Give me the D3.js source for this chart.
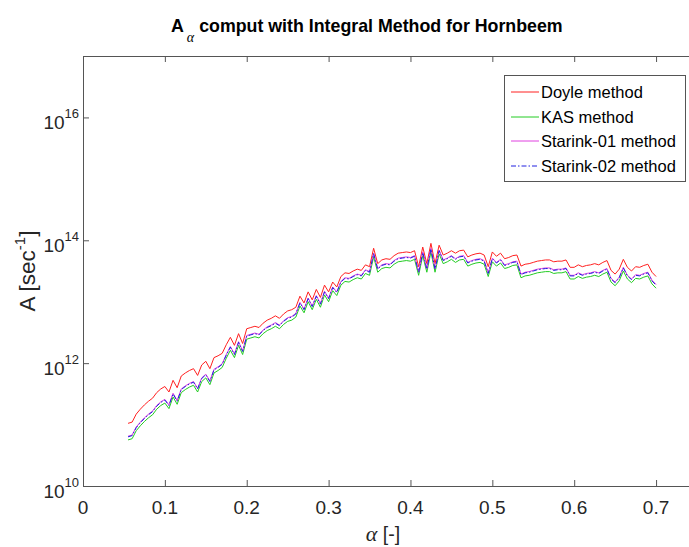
<!DOCTYPE html>
<html>
<head>
<meta charset="utf-8">
<script src="https://cdn.jsdelivr.net/npm/d3@7"></script>
<style>
  html, body { margin: 0; padding: 0; background: #fff; }
  svg { display: block; }
</style>
</head>
<body>
<svg id="chart" width="689" height="547"></svg>
<script>
// Conversion degree (alpha) grid
const alpha = [0.055,0.06,0.065,0.07,0.075,0.08,0.085,0.09,0.095,0.1,0.105,0.11,0.115,0.12,0.125,0.13,0.135,0.14,0.145,0.15,0.155,0.16,0.165,0.17,0.175,0.18,0.185,0.19,0.195,0.2,0.205,0.21,0.215,0.22,0.225,0.23,0.235,0.24,0.245,0.25,0.255,0.26,0.265,0.27,0.275,0.28,0.285,0.29,0.295,0.3,0.305,0.31,0.315,0.32,0.325,0.33,0.335,0.34,0.345,0.35,0.355,0.36,0.365,0.37,0.375,0.38,0.385,0.39,0.395,0.4,0.405,0.41,0.415,0.42,0.425,0.43,0.435,0.44,0.445,0.45,0.455,0.46,0.465,0.47,0.475,0.48,0.485,0.49,0.495,0.5,0.505,0.51,0.515,0.52,0.525,0.53,0.535,0.54,0.545,0.55,0.555,0.56,0.565,0.57,0.575,0.58,0.585,0.59,0.595,0.6,0.605,0.61,0.615,0.62,0.625,0.63,0.635,0.64,0.645,0.65,0.655,0.66,0.665,0.67,0.675,0.68,0.685,0.69,0.695,0.7];

// log10 of the pre-exponential factor A [1/s] for each method
const doyleLogA = [11.02,11.04,11.17,11.25,11.32,11.38,11.43,11.52,11.58,11.62,11.53,11.72,11.60,11.79,11.84,11.88,11.91,11.80,11.97,12.03,11.91,12.09,12.12,12.16,12.30,12.42,12.29,12.48,12.32,12.56,12.58,12.60,12.58,12.65,12.70,12.73,12.77,12.73,12.80,12.85,12.87,12.91,13.09,12.98,13.16,13.03,13.20,13.07,13.27,13.16,13.32,13.24,13.41,13.47,13.46,13.50,13.53,13.51,13.60,13.57,13.87,13.62,13.68,13.70,13.69,13.75,13.79,13.80,13.81,13.80,13.83,13.57,13.89,13.62,13.95,13.62,13.92,13.76,13.79,13.83,13.79,13.83,13.84,13.73,13.76,13.78,13.79,13.76,13.57,13.81,13.74,13.79,13.70,13.72,13.75,13.76,13.58,13.61,13.62,13.64,13.66,13.67,13.68,13.68,13.65,13.66,13.66,13.68,13.56,13.56,13.60,13.57,13.59,13.60,13.62,13.60,13.64,13.67,13.51,13.45,13.53,13.69,13.56,13.50,13.57,13.56,13.59,13.61,13.48,13.41];

const kasLogA = [10.75,10.77,10.90,10.98,11.05,11.11,11.16,11.25,11.31,11.35,11.26,11.45,11.33,11.52,11.57,11.61,11.64,11.53,11.70,11.76,11.65,11.84,11.88,11.93,12.08,12.21,12.09,12.29,12.14,12.39,12.41,12.43,12.41,12.48,12.53,12.56,12.60,12.56,12.63,12.68,12.70,12.75,12.93,12.82,13.00,12.87,13.04,12.91,13.11,13.00,13.18,13.10,13.27,13.33,13.32,13.36,13.39,13.37,13.46,13.43,13.73,13.48,13.54,13.56,13.55,13.61,13.65,13.66,13.67,13.66,13.69,13.43,13.75,13.48,13.81,13.48,13.78,13.62,13.65,13.69,13.64,13.68,13.69,13.58,13.61,13.63,13.64,13.61,13.41,13.65,13.58,13.63,13.54,13.56,13.59,13.60,13.39,13.42,13.43,13.45,13.47,13.48,13.49,13.49,13.46,13.47,13.47,13.49,13.37,13.37,13.41,13.38,13.40,13.41,13.43,13.41,13.45,13.48,13.32,13.26,13.34,13.50,13.37,13.31,13.38,13.37,13.40,13.42,13.29,13.22];

const starink01LogA = [10.81,10.83,10.96,11.04,11.11,11.17,11.22,11.31,11.37,11.41,11.32,11.51,11.39,11.58,11.63,11.67,11.70,11.59,11.76,11.82,11.71,11.90,11.94,11.99,12.14,12.27,12.15,12.35,12.20,12.45,12.47,12.49,12.47,12.54,12.59,12.62,12.66,12.62,12.69,12.74,12.76,12.81,12.99,12.88,13.06,12.93,13.10,12.97,13.17,13.06,13.24,13.16,13.33,13.39,13.38,13.42,13.45,13.43,13.52,13.49,13.79,13.54,13.60,13.62,13.61,13.67,13.71,13.72,13.73,13.72,13.75,13.49,13.81,13.54,13.87,13.54,13.84,13.68,13.71,13.75,13.70,13.74,13.75,13.64,13.67,13.69,13.70,13.67,13.47,13.71,13.64,13.69,13.60,13.62,13.65,13.66,13.45,13.48,13.49,13.51,13.53,13.54,13.55,13.55,13.52,13.53,13.53,13.55,13.43,13.43,13.47,13.44,13.46,13.47,13.49,13.47,13.51,13.54,13.38,13.32,13.40,13.56,13.43,13.37,13.44,13.43,13.46,13.48,13.35,13.28];

const starink02LogA = [10.80,10.82,10.95,11.03,11.10,11.16,11.21,11.30,11.36,11.40,11.31,11.50,11.38,11.57,11.62,11.66,11.69,11.58,11.75,11.81,11.70,11.89,11.93,11.98,12.13,12.26,12.14,12.34,12.19,12.44,12.46,12.48,12.46,12.53,12.58,12.61,12.65,12.61,12.68,12.73,12.75,12.80,12.98,12.87,13.05,12.92,13.09,12.96,13.16,13.05,13.23,13.15,13.32,13.38,13.37,13.41,13.44,13.42,13.51,13.48,13.78,13.53,13.59,13.61,13.60,13.66,13.70,13.71,13.72,13.71,13.74,13.48,13.80,13.53,13.86,13.53,13.83,13.67,13.70,13.74,13.69,13.73,13.74,13.63,13.66,13.68,13.69,13.66,13.46,13.70,13.63,13.68,13.59,13.61,13.64,13.65,13.44,13.47,13.48,13.50,13.52,13.53,13.54,13.54,13.51,13.52,13.52,13.54,13.42,13.42,13.46,13.43,13.45,13.46,13.48,13.46,13.50,13.53,13.37,13.31,13.39,13.55,13.42,13.36,13.43,13.42,13.45,13.47,13.34,13.27];

const seriesNames = ["Doyle method", "KAS method", "Starink-01 method", "Starink-02 method"];
const seriesValues = [doyleLogA, kasLogA, starink01LogA, starink02LogA];
const seriesColors = ["#ff2020", "#22cc22", "#e040e0", "#2020e0"];
const seriesDash = [null, null, null, "5,2,1.5,2"];

const xTicks = [0, 0.1, 0.2, 0.3, 0.4, 0.5, 0.6, 0.7];
const xTickLabels = ["0", "0.1", "0.2", "0.3", "0.4", "0.5", "0.6", "0.7"];
const yTickExponents = [10, 12, 14, 16];

// Plot frame
const frame = { left: 83, top: 56, right: 697, bottom: 486 };
const axisColor = "#555555";
const textColor = "#262626";
const sans = "'Liberation Sans', Arial, sans-serif";
const serif = "'Liberation Serif', 'Times New Roman', serif";

const svg = d3.select("#chart");

const x = d3.scaleLinear().domain([0, 0.75]).range([frame.left, frame.right]);
const y = d3.scaleLog().domain([1e10, 1e17]).range([frame.bottom, frame.top]);

// Curves
const line = d3.line()
  .x(d => x(d[0]))
  .y(d => y(Math.pow(10, d[1])));

const plot = svg.append("g");
seriesValues.forEach((vals, i) => {
  plot.append("path")
    .datum(alpha.map((a, k) => [a, vals[k]]))
    .attr("fill", "none")
    .attr("stroke", seriesColors[i])
    .attr("stroke-width", 1)
    .attr("stroke-dasharray", seriesDash[i])
    .attr("d", line);
});

// Axes box with inward ticks
const axes = svg.append("g");
const yTickVals = yTickExponents.map(e => Math.pow(10, e));
const xBottom = d3.axisBottom(x).tickValues(xTicks).tickSizeInner(-6).tickSizeOuter(0).tickFormat("");
const xTop = d3.axisTop(x).tickValues(xTicks).tickSizeInner(-6).tickSizeOuter(0).tickFormat("");
const yLeft = d3.axisLeft(y).tickValues(yTickVals).tickSizeInner(-6).tickSizeOuter(0).tickFormat("");
const yRight = d3.axisRight(y).tickValues(yTickVals).tickSizeInner(-6).tickSizeOuter(0).tickFormat("");

axes.append("g").attr("transform", `translate(0,${frame.bottom})`).call(xBottom);
axes.append("g").attr("transform", `translate(0,${frame.top})`).call(xTop);
axes.append("g").attr("transform", `translate(${frame.left},0)`).call(yLeft);
axes.append("g").attr("transform", `translate(${frame.right},0)`).call(yRight);
axes.selectAll("path.domain").attr("stroke", axisColor).attr("stroke-width", 1);
axes.selectAll(".tick line").attr("stroke", axisColor).attr("stroke-width", 1);

// X tick labels
svg.append("g").selectAll("text")
  .data(xTicks)
  .join("text")
  .attr("x", d => x(d))
  .attr("y", 514)
  .attr("text-anchor", "middle")
  .attr("font-family", sans)
  .attr("font-size", 19)
  .attr("fill", textColor)
  .text((d, i) => xTickLabels[i]);

// Y tick labels as powers of ten
const yLab = svg.append("g").selectAll("text")
  .data(yTickExponents)
  .join("text")
  .attr("x", 79)
  .attr("y", d => y(Math.pow(10, d)) + 12)
  .attr("text-anchor", "end")
  .attr("font-family", sans)
  .attr("fill", textColor);
yLab.append("tspan").attr("font-size", 19).text("10");
yLab.append("tspan").attr("font-size", 13).attr("dy", -11).text(d => d);

// Axis titles
const xTitle = svg.append("text")
  .attr("x", 383)
  .attr("y", 541)
  .attr("text-anchor", "middle")
  .attr("font-family", sans)
  .attr("font-size", 19.5)
  .attr("fill", textColor);
xTitle.append("tspan").attr("font-family", serif).attr("font-style", "italic").attr("font-size", 22).text("α");
xTitle.append("tspan").text(" [-]");

const yTitle = svg.append("text")
  .attr("transform", `translate(35,${(frame.top + frame.bottom) / 2}) rotate(-90)`)
  .attr("text-anchor", "middle")
  .attr("font-family", sans)
  .attr("font-size", 22.5)
  .attr("fill", textColor);
yTitle.append("tspan").text("A [sec");
yTitle.append("tspan").attr("font-size", 15).attr("dy", -10).text("-1");
yTitle.append("tspan").attr("dy", 10).text("]");

// Chart title
const title = svg.append("text")
  .attr("x", 171)
  .attr("y", 32)
  .attr("font-family", sans)
  .attr("font-size", 17.8)
  .attr("font-weight", "bold")
  .attr("fill", "#000");
title.append("tspan").text("A");
title.append("tspan").attr("font-family", serif).attr("font-style", "italic").attr("font-weight", "normal")
  .attr("font-size", 14).attr("dx", 3).attr("dy", 10).text("α");
title.append("tspan").attr("dy", -10).text(" comput with Integral Method for Hornbeem");

// Legend
const lg = svg.append("g");
lg.append("rect")
  .attr("x", 504.5).attr("y", 75.5)
  .attr("width", 181).attr("height", 106)
  .attr("fill", "#fff")
  .attr("stroke", axisColor)
  .attr("stroke-width", 1);
const rowY = [92, 117, 141, 166];
seriesNames.forEach((name, i) => {
  lg.append("line")
    .attr("x1", 511).attr("x2", 539)
    .attr("y1", rowY[i]).attr("y2", rowY[i])
    .attr("stroke", seriesColors[i])
    .attr("stroke-width", 1)
    .attr("stroke-dasharray", seriesDash[i]);
  lg.append("text")
    .attr("x", 541)
    .attr("y", rowY[i] + 6)
    .attr("font-family", sans)
    .attr("font-size", 16.5)
    .attr("fill", "#000")
    .text(name);
});
</script>
</body>
</html>
